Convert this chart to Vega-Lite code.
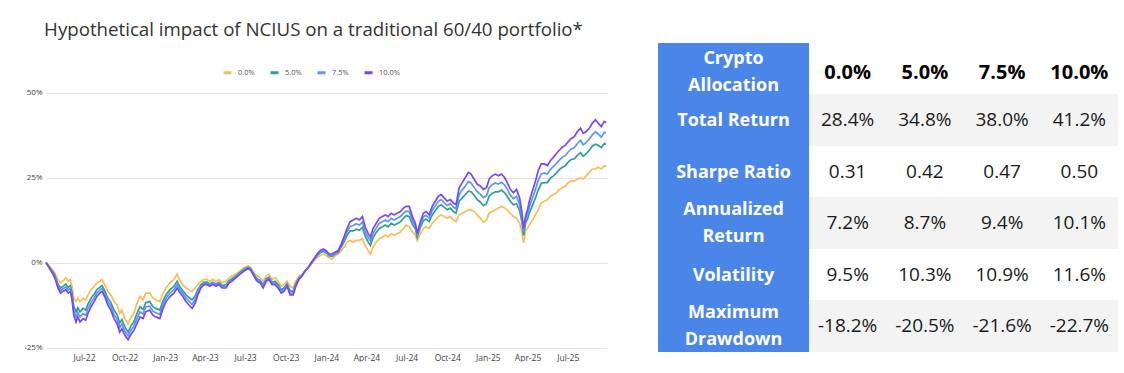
{
"$schema":"https://vega.github.io/schema/vega-lite/v6.json",
"padding":{"left":5,"top":21,"right":0,"bottom":0},
"spacing":48,
"config":{"view":{"stroke":null},"font":"Open Sans"},
"datasets":{
"s0":[{"d":"2022-04-06","v":0},{"d":"2022-04-13","v":-1},{"d":"2022-04-20","v":-2},{"d":"2022-04-26","v":-3},{"d":"2022-05-03","v":-5},{"d":"2022-05-09","v":-6},{"d":"2022-05-14","v":-5.5},{"d":"2022-05-21","v":-4.5},{"d":"2022-05-26","v":-5.5},{"d":"2022-05-31","v":-5},{"d":"2022-06-04","v":-7},{"d":"2022-06-08","v":-10.5},{"d":"2022-06-13","v":-11.5},{"d":"2022-06-17","v":-10.5},{"d":"2022-06-22","v":-11.5},{"d":"2022-06-29","v":-10.5},{"d":"2022-07-05","v":-11},{"d":"2022-07-10","v":-9.5},{"d":"2022-07-17","v":-8},{"d":"2022-07-24","v":-7},{"d":"2022-07-30","v":-6},{"d":"2022-08-06","v":-5.5},{"d":"2022-08-11","v":-5},{"d":"2022-08-17","v":-6.5},{"d":"2022-08-24","v":-8.5},{"d":"2022-08-31","v":-9.5},{"d":"2022-09-07","v":-11.5},{"d":"2022-09-14","v":-12.5},{"d":"2022-09-20","v":-15},{"d":"2022-09-25","v":-14},{"d":"2022-10-02","v":-16.5},{"d":"2022-10-09","v":-18.2},{"d":"2022-10-16","v":-16},{"d":"2022-10-22","v":-15},{"d":"2022-10-29","v":-12},{"d":"2022-11-05","v":-10},{"d":"2022-11-12","v":-11},{"d":"2022-11-18","v":-9},{"d":"2022-11-27","v":-9},{"d":"2022-12-04","v":-10.5},{"d":"2022-12-11","v":-11},{"d":"2022-12-20","v":-11.5},{"d":"2022-12-27","v":-9},{"d":"2023-01-03","v":-7.5},{"d":"2023-01-12","v":-6},{"d":"2023-01-21","v":-5},{"d":"2023-01-28","v":-3.5},{"d":"2023-02-04","v":-5.5},{"d":"2023-02-10","v":-6.5},{"d":"2023-02-17","v":-7.5},{"d":"2023-02-24","v":-8},{"d":"2023-03-03","v":-8.5},{"d":"2023-03-10","v":-7.5},{"d":"2023-03-16","v":-6.5},{"d":"2023-03-23","v":-5.5},{"d":"2023-03-30","v":-5},{"d":"2023-04-06","v":-5},{"d":"2023-04-12","v":-5.5},{"d":"2023-04-19","v":-5},{"d":"2023-04-26","v":-5.5},{"d":"2023-05-03","v":-5},{"d":"2023-05-10","v":-6},{"d":"2023-05-19","v":-5.5},{"d":"2023-05-26","v":-4.5},{"d":"2023-06-01","v":-4},{"d":"2023-06-10","v":-3.5},{"d":"2023-06-19","v":-2.5},{"d":"2023-06-29","v":-1.5},{"d":"2023-07-08","v":-1},{"d":"2023-07-14","v":-1.5},{"d":"2023-07-21","v":-3},{"d":"2023-07-28","v":-4},{"d":"2023-08-04","v":-4.5},{"d":"2023-08-11","v":-5.5},{"d":"2023-08-18","v":-4},{"d":"2023-08-24","v":-3.5},{"d":"2023-08-31","v":-5},{"d":"2023-09-07","v":-4.5},{"d":"2023-09-14","v":-5.5},{"d":"2023-09-21","v":-7},{"d":"2023-09-27","v":-6.5},{"d":"2023-10-04","v":-5.5},{"d":"2023-10-11","v":-7},{"d":"2023-10-18","v":-7.5},{"d":"2023-10-24","v":-5.5},{"d":"2023-10-31","v":-4},{"d":"2023-11-07","v":-3.5},{"d":"2023-11-14","v":-2.5},{"d":"2023-11-21","v":-1.5},{"d":"2023-11-28","v":-0.5},{"d":"2023-12-04","v":0.5},{"d":"2023-12-11","v":1.5},{"d":"2023-12-18","v":2},{"d":"2023-12-25","v":2.5},{"d":"2024-01-01","v":2},{"d":"2024-01-07","v":1.5},{"d":"2024-01-14","v":1},{"d":"2024-01-21","v":2},{"d":"2024-01-28","v":2.5},{"d":"2024-02-04","v":3.5},{"d":"2024-02-10","v":4.5},{"d":"2024-02-17","v":6},{"d":"2024-02-24","v":6.5},{"d":"2024-03-02","v":6},{"d":"2024-03-09","v":6.5},{"d":"2024-03-16","v":6.5},{"d":"2024-03-23","v":7},{"d":"2024-03-29","v":5},{"d":"2024-04-05","v":3.5},{"d":"2024-04-10","v":2.5},{"d":"2024-04-16","v":4.5},{"d":"2024-04-23","v":6},{"d":"2024-04-30","v":7},{"d":"2024-05-07","v":7.5},{"d":"2024-05-14","v":8},{"d":"2024-05-20","v":7.5},{"d":"2024-05-27","v":8.5},{"d":"2024-06-03","v":8},{"d":"2024-06-10","v":8.5},{"d":"2024-06-17","v":9},{"d":"2024-06-24","v":10},{"d":"2024-06-30","v":11},{"d":"2024-07-07","v":10.5},{"d":"2024-07-14","v":9},{"d":"2024-07-21","v":8},{"d":"2024-07-25","v":6.5},{"d":"2024-08-01","v":8.5},{"d":"2024-08-08","v":10},{"d":"2024-08-14","v":10.5},{"d":"2024-08-21","v":10},{"d":"2024-08-28","v":11.5},{"d":"2024-09-04","v":12.5},{"d":"2024-09-11","v":13.5},{"d":"2024-09-17","v":14},{"d":"2024-09-24","v":13.5},{"d":"2024-10-01","v":13},{"d":"2024-10-08","v":13.5},{"d":"2024-10-15","v":12.5},{"d":"2024-10-21","v":12},{"d":"2024-10-28","v":14},{"d":"2024-11-04","v":14.5},{"d":"2024-11-11","v":15},{"d":"2024-11-18","v":15.5},{"d":"2024-11-24","v":15.5},{"d":"2024-12-01","v":15},{"d":"2024-12-08","v":14},{"d":"2024-12-15","v":13},{"d":"2024-12-22","v":11.8},{"d":"2024-12-29","v":12.5},{"d":"2025-01-04","v":14.5},{"d":"2025-01-11","v":15},{"d":"2025-01-18","v":15.5},{"d":"2025-01-25","v":16},{"d":"2025-02-01","v":16.5},{"d":"2025-02-08","v":16},{"d":"2025-02-14","v":15.5},{"d":"2025-02-21","v":14.5},{"d":"2025-02-28","v":13.5},{"d":"2025-03-07","v":13},{"d":"2025-03-14","v":11.5},{"d":"2025-03-19","v":9},{"d":"2025-03-23","v":5.8},{"d":"2025-03-28","v":9.5},{"d":"2025-04-01","v":10},{"d":"2025-04-05","v":11},{"d":"2025-04-12","v":12.5},{"d":"2025-04-19","v":14},{"d":"2025-04-25","v":15.5},{"d":"2025-05-02","v":17.5},{"d":"2025-05-09","v":18},{"d":"2025-05-16","v":18.5},{"d":"2025-05-23","v":19.5},{"d":"2025-05-30","v":20},{"d":"2025-06-05","v":20.5},{"d":"2025-06-12","v":21.5},{"d":"2025-06-19","v":22},{"d":"2025-06-26","v":22.5},{"d":"2025-07-02","v":23.5},{"d":"2025-07-09","v":24},{"d":"2025-07-16","v":24},{"d":"2025-07-23","v":24.5},{"d":"2025-07-30","v":25},{"d":"2025-08-05","v":24.5},{"d":"2025-08-12","v":25.5},{"d":"2025-08-19","v":26.5},{"d":"2025-08-26","v":27.5},{"d":"2025-09-02","v":27.5},{"d":"2025-09-08","v":28},{"d":"2025-09-15","v":27.5},{"d":"2025-09-22","v":28.5},{"d":"2025-09-26","v":28.4}],
"s1":[{"d":"2022-04-06","v":0},{"d":"2022-04-13","v":-1.3},{"d":"2022-04-20","v":-2.5},{"d":"2022-04-26","v":-3.8},{"d":"2022-05-03","v":-6.3},{"d":"2022-05-09","v":-7.5},{"d":"2022-05-14","v":-7},{"d":"2022-05-21","v":-6.3},{"d":"2022-05-26","v":-7.3},{"d":"2022-05-31","v":-6.8},{"d":"2022-06-04","v":-9},{"d":"2022-06-08","v":-13},{"d":"2022-06-13","v":-14.5},{"d":"2022-06-17","v":-13.3},{"d":"2022-06-22","v":-14.5},{"d":"2022-06-29","v":-13.5},{"d":"2022-07-05","v":-14},{"d":"2022-07-10","v":-12.3},{"d":"2022-07-17","v":-10.5},{"d":"2022-07-24","v":-9.3},{"d":"2022-07-30","v":-8},{"d":"2022-08-06","v":-7.3},{"d":"2022-08-11","v":-6.8},{"d":"2022-08-17","v":-8.3},{"d":"2022-08-24","v":-10.5},{"d":"2022-08-31","v":-11.8},{"d":"2022-09-07","v":-14},{"d":"2022-09-14","v":-15.3},{"d":"2022-09-20","v":-17.8},{"d":"2022-09-25","v":-16.8},{"d":"2022-10-02","v":-19},{"d":"2022-10-09","v":-20.5},{"d":"2022-10-16","v":-18.5},{"d":"2022-10-22","v":-17.5},{"d":"2022-10-29","v":-15},{"d":"2022-11-05","v":-13},{"d":"2022-11-12","v":-13.8},{"d":"2022-11-18","v":-11.8},{"d":"2022-11-27","v":-11.5},{"d":"2022-12-04","v":-13},{"d":"2022-12-11","v":-13.5},{"d":"2022-12-20","v":-14},{"d":"2022-12-27","v":-11.3},{"d":"2023-01-03","v":-9.5},{"d":"2023-01-12","v":-8},{"d":"2023-01-21","v":-7},{"d":"2023-01-28","v":-5.5},{"d":"2023-02-04","v":-7.3},{"d":"2023-02-10","v":-8.3},{"d":"2023-02-17","v":-9.5},{"d":"2023-02-24","v":-10.3},{"d":"2023-03-03","v":-11},{"d":"2023-03-10","v":-9.8},{"d":"2023-03-16","v":-8},{"d":"2023-03-23","v":-6.5},{"d":"2023-03-30","v":-5.8},{"d":"2023-04-06","v":-5.8},{"d":"2023-04-12","v":-6.3},{"d":"2023-04-19","v":-5.8},{"d":"2023-04-26","v":-6.3},{"d":"2023-05-03","v":-5.8},{"d":"2023-05-10","v":-6.8},{"d":"2023-05-19","v":-6.5},{"d":"2023-05-26","v":-5.3},{"d":"2023-06-01","v":-4.8},{"d":"2023-06-10","v":-4},{"d":"2023-06-19","v":-3},{"d":"2023-06-29","v":-2},{"d":"2023-07-08","v":-1.4},{"d":"2023-07-14","v":-1.9},{"d":"2023-07-21","v":-3.5},{"d":"2023-07-28","v":-4.8},{"d":"2023-08-04","v":-5.3},{"d":"2023-08-11","v":-6.5},{"d":"2023-08-18","v":-4.8},{"d":"2023-08-24","v":-4.3},{"d":"2023-08-31","v":-5.8},{"d":"2023-09-07","v":-5.5},{"d":"2023-09-14","v":-6.5},{"d":"2023-09-21","v":-8},{"d":"2023-09-27","v":-7.5},{"d":"2023-10-04","v":-6.3},{"d":"2023-10-11","v":-8.3},{"d":"2023-10-18","v":-8.5},{"d":"2023-10-24","v":-6.3},{"d":"2023-10-31","v":-4.5},{"d":"2023-11-07","v":-3.8},{"d":"2023-11-14","v":-2.5},{"d":"2023-11-21","v":-1.5},{"d":"2023-11-28","v":-0.3},{"d":"2023-12-04","v":0.8},{"d":"2023-12-11","v":2},{"d":"2023-12-18","v":2.8},{"d":"2023-12-25","v":3.3},{"d":"2024-01-01","v":2.8},{"d":"2024-01-07","v":2},{"d":"2024-01-14","v":1.8},{"d":"2024-01-21","v":2.5},{"d":"2024-01-28","v":3},{"d":"2024-02-04","v":4.5},{"d":"2024-02-10","v":6},{"d":"2024-02-17","v":8},{"d":"2024-02-24","v":9.3},{"d":"2024-03-02","v":9.3},{"d":"2024-03-09","v":9.8},{"d":"2024-03-16","v":9.5},{"d":"2024-03-23","v":10.3},{"d":"2024-03-29","v":7.8},{"d":"2024-04-05","v":6},{"d":"2024-04-10","v":5},{"d":"2024-04-16","v":7.3},{"d":"2024-04-23","v":8.8},{"d":"2024-04-30","v":10},{"d":"2024-05-07","v":10.5},{"d":"2024-05-14","v":11},{"d":"2024-05-20","v":10.5},{"d":"2024-05-27","v":11.5},{"d":"2024-06-03","v":11},{"d":"2024-06-10","v":11.5},{"d":"2024-06-17","v":12},{"d":"2024-06-24","v":13},{"d":"2024-06-30","v":13.8},{"d":"2024-07-07","v":13.5},{"d":"2024-07-14","v":11.3},{"d":"2024-07-21","v":9.8},{"d":"2024-07-25","v":7.5},{"d":"2024-08-01","v":10.3},{"d":"2024-08-08","v":12.3},{"d":"2024-08-14","v":12.8},{"d":"2024-08-21","v":12},{"d":"2024-08-28","v":14},{"d":"2024-09-04","v":15.3},{"d":"2024-09-11","v":16.5},{"d":"2024-09-17","v":17},{"d":"2024-09-24","v":16.3},{"d":"2024-10-01","v":15.5},{"d":"2024-10-08","v":16},{"d":"2024-10-15","v":15},{"d":"2024-10-21","v":14.5},{"d":"2024-10-28","v":18},{"d":"2024-11-04","v":19},{"d":"2024-11-11","v":20},{"d":"2024-11-18","v":21},{"d":"2024-11-24","v":20.8},{"d":"2024-12-01","v":19.8},{"d":"2024-12-08","v":18.5},{"d":"2024-12-15","v":17.8},{"d":"2024-12-22","v":16.7},{"d":"2024-12-29","v":17.3},{"d":"2025-01-04","v":19.5},{"d":"2025-01-11","v":20.3},{"d":"2025-01-18","v":20.8},{"d":"2025-01-25","v":20.8},{"d":"2025-02-01","v":21.3},{"d":"2025-02-08","v":20.5},{"d":"2025-02-14","v":19.5},{"d":"2025-02-21","v":18},{"d":"2025-02-28","v":17},{"d":"2025-03-07","v":17.3},{"d":"2025-03-14","v":15.3},{"d":"2025-03-19","v":12},{"d":"2025-03-23","v":7.9},{"d":"2025-03-28","v":11.8},{"d":"2025-04-01","v":12.8},{"d":"2025-04-05","v":14.5},{"d":"2025-04-12","v":16.8},{"d":"2025-04-19","v":19},{"d":"2025-04-25","v":21.3},{"d":"2025-05-02","v":23.3},{"d":"2025-05-09","v":23.5},{"d":"2025-05-16","v":23.5},{"d":"2025-05-23","v":24.8},{"d":"2025-05-30","v":25.5},{"d":"2025-06-05","v":26.3},{"d":"2025-06-12","v":27.3},{"d":"2025-06-19","v":28},{"d":"2025-06-26","v":28.5},{"d":"2025-07-02","v":29.5},{"d":"2025-07-09","v":30.3},{"d":"2025-07-16","v":30.5},{"d":"2025-07-23","v":31.5},{"d":"2025-07-30","v":32.3},{"d":"2025-08-05","v":31.3},{"d":"2025-08-12","v":32},{"d":"2025-08-19","v":33},{"d":"2025-08-26","v":34.3},{"d":"2025-09-02","v":34.8},{"d":"2025-09-08","v":34.5},{"d":"2025-09-15","v":33.8},{"d":"2025-09-22","v":35},{"d":"2025-09-26","v":34.8}],
"s2":[{"d":"2022-04-06","v":0},{"d":"2022-04-13","v":-1.4},{"d":"2022-04-20","v":-2.8},{"d":"2022-04-26","v":-4.1},{"d":"2022-05-03","v":-6.9},{"d":"2022-05-09","v":-8.3},{"d":"2022-05-14","v":-7.8},{"d":"2022-05-21","v":-7.1},{"d":"2022-05-26","v":-8.1},{"d":"2022-05-31","v":-7.6},{"d":"2022-06-04","v":-10},{"d":"2022-06-08","v":-14.3},{"d":"2022-06-13","v":-16},{"d":"2022-06-17","v":-14.6},{"d":"2022-06-22","v":-16},{"d":"2022-06-29","v":-15},{"d":"2022-07-05","v":-15.5},{"d":"2022-07-10","v":-13.6},{"d":"2022-07-17","v":-11.8},{"d":"2022-07-24","v":-10.4},{"d":"2022-07-30","v":-9},{"d":"2022-08-06","v":-8.1},{"d":"2022-08-11","v":-7.6},{"d":"2022-08-17","v":-9.1},{"d":"2022-08-24","v":-11.5},{"d":"2022-08-31","v":-12.9},{"d":"2022-09-07","v":-15.3},{"d":"2022-09-14","v":-16.6},{"d":"2022-09-20","v":-19.1},{"d":"2022-09-25","v":-18.1},{"d":"2022-10-02","v":-20.3},{"d":"2022-10-09","v":-21.6},{"d":"2022-10-16","v":-19.8},{"d":"2022-10-22","v":-18.8},{"d":"2022-10-29","v":-16.5},{"d":"2022-11-05","v":-14.5},{"d":"2022-11-12","v":-15.1},{"d":"2022-11-18","v":-13.1},{"d":"2022-11-27","v":-12.8},{"d":"2022-12-04","v":-14.3},{"d":"2022-12-11","v":-14.8},{"d":"2022-12-20","v":-15.3},{"d":"2022-12-27","v":-12.4},{"d":"2023-01-03","v":-10.5},{"d":"2023-01-12","v":-9},{"d":"2023-01-21","v":-8},{"d":"2023-01-28","v":-6.5},{"d":"2023-02-04","v":-8.1},{"d":"2023-02-10","v":-9.1},{"d":"2023-02-17","v":-10.5},{"d":"2023-02-24","v":-11.4},{"d":"2023-03-03","v":-12.3},{"d":"2023-03-10","v":-10.9},{"d":"2023-03-16","v":-8.8},{"d":"2023-03-23","v":-7},{"d":"2023-03-30","v":-6.1},{"d":"2023-04-06","v":-6.1},{"d":"2023-04-12","v":-6.6},{"d":"2023-04-19","v":-6.1},{"d":"2023-04-26","v":-6.6},{"d":"2023-05-03","v":-6.1},{"d":"2023-05-10","v":-7.1},{"d":"2023-05-19","v":-7},{"d":"2023-05-26","v":-5.6},{"d":"2023-06-01","v":-5.1},{"d":"2023-06-10","v":-4.3},{"d":"2023-06-19","v":-3.3},{"d":"2023-06-29","v":-2.3},{"d":"2023-07-08","v":-1.6},{"d":"2023-07-14","v":-2.1},{"d":"2023-07-21","v":-3.8},{"d":"2023-07-28","v":-5.1},{"d":"2023-08-04","v":-5.6},{"d":"2023-08-11","v":-7},{"d":"2023-08-18","v":-5.1},{"d":"2023-08-24","v":-4.6},{"d":"2023-08-31","v":-6.1},{"d":"2023-09-07","v":-6},{"d":"2023-09-14","v":-7},{"d":"2023-09-21","v":-8.5},{"d":"2023-09-27","v":-8},{"d":"2023-10-04","v":-6.6},{"d":"2023-10-11","v":-8.9},{"d":"2023-10-18","v":-9},{"d":"2023-10-24","v":-6.6},{"d":"2023-10-31","v":-4.8},{"d":"2023-11-07","v":-3.9},{"d":"2023-11-14","v":-2.5},{"d":"2023-11-21","v":-1.5},{"d":"2023-11-28","v":-0.1},{"d":"2023-12-04","v":0.9},{"d":"2023-12-11","v":2.3},{"d":"2023-12-18","v":3.1},{"d":"2023-12-25","v":3.6},{"d":"2024-01-01","v":3.1},{"d":"2024-01-07","v":2.3},{"d":"2024-01-14","v":2.1},{"d":"2024-01-21","v":2.8},{"d":"2024-01-28","v":3.3},{"d":"2024-02-04","v":5},{"d":"2024-02-10","v":6.8},{"d":"2024-02-17","v":9},{"d":"2024-02-24","v":10.6},{"d":"2024-03-02","v":10.9},{"d":"2024-03-09","v":11.4},{"d":"2024-03-16","v":11},{"d":"2024-03-23","v":11.9},{"d":"2024-03-29","v":9.1},{"d":"2024-04-05","v":7.3},{"d":"2024-04-10","v":6.3},{"d":"2024-04-16","v":8.6},{"d":"2024-04-23","v":10.1},{"d":"2024-04-30","v":11.5},{"d":"2024-05-07","v":12},{"d":"2024-05-14","v":12.5},{"d":"2024-05-20","v":12},{"d":"2024-05-27","v":13},{"d":"2024-06-03","v":12.5},{"d":"2024-06-10","v":13},{"d":"2024-06-17","v":13.5},{"d":"2024-06-24","v":14.5},{"d":"2024-06-30","v":15.1},{"d":"2024-07-07","v":15},{"d":"2024-07-14","v":12.4},{"d":"2024-07-21","v":10.6},{"d":"2024-07-25","v":8},{"d":"2024-08-01","v":11.1},{"d":"2024-08-08","v":13.4},{"d":"2024-08-14","v":13.9},{"d":"2024-08-21","v":13},{"d":"2024-08-28","v":15.3},{"d":"2024-09-04","v":16.6},{"d":"2024-09-11","v":18},{"d":"2024-09-17","v":18.5},{"d":"2024-09-24","v":17.6},{"d":"2024-10-01","v":16.8},{"d":"2024-10-08","v":17.3},{"d":"2024-10-15","v":16.3},{"d":"2024-10-21","v":15.8},{"d":"2024-10-28","v":20},{"d":"2024-11-04","v":21.3},{"d":"2024-11-11","v":22.5},{"d":"2024-11-18","v":23.8},{"d":"2024-11-24","v":23.4},{"d":"2024-12-01","v":22.1},{"d":"2024-12-08","v":20.8},{"d":"2024-12-15","v":20.1},{"d":"2024-12-22","v":19.1},{"d":"2024-12-29","v":19.6},{"d":"2025-01-04","v":22},{"d":"2025-01-11","v":22.9},{"d":"2025-01-18","v":23.4},{"d":"2025-01-25","v":23.1},{"d":"2025-02-01","v":23.6},{"d":"2025-02-08","v":22.8},{"d":"2025-02-14","v":21.5},{"d":"2025-02-21","v":19.8},{"d":"2025-02-28","v":18.8},{"d":"2025-03-07","v":19.4},{"d":"2025-03-14","v":17.1},{"d":"2025-03-19","v":13.5},{"d":"2025-03-23","v":9},{"d":"2025-03-28","v":12.9},{"d":"2025-04-01","v":14.1},{"d":"2025-04-05","v":16.3},{"d":"2025-04-12","v":18.9},{"d":"2025-04-19","v":21.5},{"d":"2025-04-25","v":24.1},{"d":"2025-05-02","v":26.1},{"d":"2025-05-09","v":26.3},{"d":"2025-05-16","v":26},{"d":"2025-05-23","v":27.4},{"d":"2025-05-30","v":28.3},{"d":"2025-06-05","v":29.1},{"d":"2025-06-12","v":30.1},{"d":"2025-06-19","v":31},{"d":"2025-06-26","v":31.5},{"d":"2025-07-02","v":32.5},{"d":"2025-07-09","v":33.4},{"d":"2025-07-16","v":33.8},{"d":"2025-07-23","v":35},{"d":"2025-07-30","v":35.9},{"d":"2025-08-05","v":34.6},{"d":"2025-08-12","v":35.3},{"d":"2025-08-19","v":36.3},{"d":"2025-08-26","v":37.6},{"d":"2025-09-02","v":38.4},{"d":"2025-09-08","v":37.8},{"d":"2025-09-15","v":36.9},{"d":"2025-09-22","v":38.3},{"d":"2025-09-26","v":38}],
"s3":[{"d":"2022-04-06","v":0},{"d":"2022-04-13","v":-1.5},{"d":"2022-04-20","v":-3},{"d":"2022-04-26","v":-4.5},{"d":"2022-05-03","v":-7.5},{"d":"2022-05-09","v":-9},{"d":"2022-05-14","v":-8.5},{"d":"2022-05-21","v":-8},{"d":"2022-05-26","v":-9},{"d":"2022-05-31","v":-8.5},{"d":"2022-06-04","v":-11},{"d":"2022-06-08","v":-15.5},{"d":"2022-06-13","v":-17.5},{"d":"2022-06-17","v":-16},{"d":"2022-06-22","v":-17.5},{"d":"2022-06-29","v":-16.5},{"d":"2022-07-05","v":-17},{"d":"2022-07-10","v":-15},{"d":"2022-07-17","v":-13},{"d":"2022-07-24","v":-11.5},{"d":"2022-07-30","v":-10},{"d":"2022-08-06","v":-9},{"d":"2022-08-11","v":-8.5},{"d":"2022-08-17","v":-10},{"d":"2022-08-24","v":-12.5},{"d":"2022-08-31","v":-14},{"d":"2022-09-07","v":-16.5},{"d":"2022-09-14","v":-18},{"d":"2022-09-20","v":-20.5},{"d":"2022-09-25","v":-19.5},{"d":"2022-10-02","v":-21.5},{"d":"2022-10-09","v":-22.7},{"d":"2022-10-16","v":-21},{"d":"2022-10-22","v":-20},{"d":"2022-10-29","v":-18},{"d":"2022-11-05","v":-16},{"d":"2022-11-12","v":-16.5},{"d":"2022-11-18","v":-14.5},{"d":"2022-11-27","v":-14},{"d":"2022-12-04","v":-15.5},{"d":"2022-12-11","v":-16},{"d":"2022-12-20","v":-16.5},{"d":"2022-12-27","v":-13.5},{"d":"2023-01-03","v":-11.5},{"d":"2023-01-12","v":-10},{"d":"2023-01-21","v":-9},{"d":"2023-01-28","v":-7.5},{"d":"2023-02-04","v":-9},{"d":"2023-02-10","v":-10},{"d":"2023-02-17","v":-11.5},{"d":"2023-02-24","v":-12.5},{"d":"2023-03-03","v":-13.5},{"d":"2023-03-10","v":-12},{"d":"2023-03-16","v":-9.5},{"d":"2023-03-23","v":-7.5},{"d":"2023-03-30","v":-6.5},{"d":"2023-04-06","v":-6.5},{"d":"2023-04-12","v":-7},{"d":"2023-04-19","v":-6.5},{"d":"2023-04-26","v":-7},{"d":"2023-05-03","v":-6.5},{"d":"2023-05-10","v":-7.5},{"d":"2023-05-19","v":-7.5},{"d":"2023-05-26","v":-6},{"d":"2023-06-01","v":-5.5},{"d":"2023-06-10","v":-4.5},{"d":"2023-06-19","v":-3.5},{"d":"2023-06-29","v":-2.5},{"d":"2023-07-08","v":-1.8},{"d":"2023-07-14","v":-2.3},{"d":"2023-07-21","v":-4},{"d":"2023-07-28","v":-5.5},{"d":"2023-08-04","v":-6},{"d":"2023-08-11","v":-7.5},{"d":"2023-08-18","v":-5.5},{"d":"2023-08-24","v":-5},{"d":"2023-08-31","v":-6.5},{"d":"2023-09-07","v":-6.5},{"d":"2023-09-14","v":-7.5},{"d":"2023-09-21","v":-9},{"d":"2023-09-27","v":-8.5},{"d":"2023-10-04","v":-7},{"d":"2023-10-11","v":-9.5},{"d":"2023-10-18","v":-9.5},{"d":"2023-10-24","v":-7},{"d":"2023-10-31","v":-5},{"d":"2023-11-07","v":-4},{"d":"2023-11-14","v":-2.5},{"d":"2023-11-21","v":-1.5},{"d":"2023-11-28","v":0},{"d":"2023-12-04","v":1},{"d":"2023-12-11","v":2.5},{"d":"2023-12-18","v":3.5},{"d":"2023-12-25","v":4},{"d":"2024-01-01","v":3.5},{"d":"2024-01-07","v":2.5},{"d":"2024-01-14","v":2.5},{"d":"2024-01-21","v":3},{"d":"2024-01-28","v":3.5},{"d":"2024-02-04","v":5.5},{"d":"2024-02-10","v":7.5},{"d":"2024-02-17","v":10},{"d":"2024-02-24","v":12},{"d":"2024-03-02","v":12.5},{"d":"2024-03-09","v":13},{"d":"2024-03-16","v":12.5},{"d":"2024-03-23","v":13.5},{"d":"2024-03-29","v":10.5},{"d":"2024-04-05","v":8.5},{"d":"2024-04-10","v":7.5},{"d":"2024-04-16","v":10},{"d":"2024-04-23","v":11.5},{"d":"2024-04-30","v":13},{"d":"2024-05-07","v":13.5},{"d":"2024-05-14","v":14},{"d":"2024-05-20","v":13.5},{"d":"2024-05-27","v":14.5},{"d":"2024-06-03","v":14},{"d":"2024-06-10","v":14.5},{"d":"2024-06-17","v":15},{"d":"2024-06-24","v":16},{"d":"2024-06-30","v":16.5},{"d":"2024-07-07","v":16.5},{"d":"2024-07-14","v":13.5},{"d":"2024-07-21","v":11.5},{"d":"2024-07-25","v":8.5},{"d":"2024-08-01","v":12},{"d":"2024-08-08","v":14.5},{"d":"2024-08-14","v":15},{"d":"2024-08-21","v":14},{"d":"2024-08-28","v":16.5},{"d":"2024-09-04","v":18},{"d":"2024-09-11","v":19.5},{"d":"2024-09-17","v":20},{"d":"2024-09-24","v":19},{"d":"2024-10-01","v":18},{"d":"2024-10-08","v":18.5},{"d":"2024-10-15","v":17.5},{"d":"2024-10-21","v":17},{"d":"2024-10-28","v":22},{"d":"2024-11-04","v":23.5},{"d":"2024-11-11","v":25},{"d":"2024-11-18","v":26.5},{"d":"2024-11-24","v":26},{"d":"2024-12-01","v":24.5},{"d":"2024-12-08","v":23},{"d":"2024-12-15","v":22.5},{"d":"2024-12-22","v":21.5},{"d":"2024-12-29","v":22},{"d":"2025-01-04","v":24.5},{"d":"2025-01-11","v":25.5},{"d":"2025-01-18","v":26},{"d":"2025-01-25","v":25.5},{"d":"2025-02-01","v":26},{"d":"2025-02-08","v":25},{"d":"2025-02-14","v":23.5},{"d":"2025-02-21","v":21.5},{"d":"2025-02-28","v":20.5},{"d":"2025-03-07","v":21.5},{"d":"2025-03-14","v":19},{"d":"2025-03-19","v":15},{"d":"2025-03-23","v":10},{"d":"2025-03-28","v":14},{"d":"2025-04-01","v":15.5},{"d":"2025-04-05","v":18},{"d":"2025-04-12","v":21},{"d":"2025-04-19","v":24},{"d":"2025-04-25","v":27},{"d":"2025-05-02","v":29},{"d":"2025-05-09","v":29},{"d":"2025-05-16","v":28.5},{"d":"2025-05-23","v":30},{"d":"2025-05-30","v":31},{"d":"2025-06-05","v":32},{"d":"2025-06-12","v":33},{"d":"2025-06-19","v":34},{"d":"2025-06-26","v":34.5},{"d":"2025-07-02","v":35.5},{"d":"2025-07-09","v":36.5},{"d":"2025-07-16","v":37},{"d":"2025-07-23","v":38.5},{"d":"2025-07-30","v":39.5},{"d":"2025-08-05","v":38},{"d":"2025-08-12","v":38.5},{"d":"2025-08-19","v":39.5},{"d":"2025-08-26","v":41},{"d":"2025-09-02","v":42},{"d":"2025-09-08","v":41},{"d":"2025-09-15","v":40},{"d":"2025-09-22","v":41.5},{"d":"2025-09-26","v":41.2}],
"rows":[{"r":"Crypto Allocation","l":"Crypto\nAllocation"},{"r":"Total Return","l":"Total Return"},{"r":"Sharpe Ratio","l":"Sharpe Ratio"},{"r":"Annualized Return","l":"Annualized\nReturn"},{"r":"Volatility","l":"Volatility"},{"r":"Maximum Drawdown","l":"Maximum\nDrawdown"}],
"cells":[
{"r":"Crypto Allocation","c":"0.0%","t":"0.0%"},{"r":"Crypto Allocation","c":"5.0%","t":"5.0%"},{"r":"Crypto Allocation","c":"7.5%","t":"7.5%"},{"r":"Crypto Allocation","c":"10.0%","t":"10.0%"},
{"r":"Total Return","c":"0.0%","t":"28.4%"},{"r":"Total Return","c":"5.0%","t":"34.8%"},{"r":"Total Return","c":"7.5%","t":"38.0%"},{"r":"Total Return","c":"10.0%","t":"41.2%"},
{"r":"Sharpe Ratio","c":"0.0%","t":"0.31"},{"r":"Sharpe Ratio","c":"5.0%","t":"0.42"},{"r":"Sharpe Ratio","c":"7.5%","t":"0.47"},{"r":"Sharpe Ratio","c":"10.0%","t":"0.50"},
{"r":"Annualized Return","c":"0.0%","t":"7.2%"},{"r":"Annualized Return","c":"5.0%","t":"8.7%"},{"r":"Annualized Return","c":"7.5%","t":"9.4%"},{"r":"Annualized Return","c":"10.0%","t":"10.1%"},
{"r":"Volatility","c":"0.0%","t":"9.5%"},{"r":"Volatility","c":"5.0%","t":"10.3%"},{"r":"Volatility","c":"7.5%","t":"10.9%"},{"r":"Volatility","c":"10.0%","t":"11.6%"},
{"r":"Maximum Drawdown","c":"0.0%","t":"-18.2%"},{"r":"Maximum Drawdown","c":"5.0%","t":"-20.5%"},{"r":"Maximum Drawdown","c":"7.5%","t":"-21.6%"},{"r":"Maximum Drawdown","c":"10.0%","t":"-22.7%"}]
},
"hconcat":[
{
"width":561,"height":304.5,
"title":{"text":"Hypothetical impact of NCIUS on a traditional 60/40 portfolio*","fontSize":18.7,"fontWeight":"normal","color":"#333333","font":"Open Sans","anchor":"middle","frame":"group","dx":-13,"offset":3},
"layer":[
{"mark":{"type":"rule","color":"#9a9a9a","strokeWidth":1.2},"encoding":{"y":{"datum":0,"type":"quantitative"}}},
{"encoding":{
"x":{"field":"d","type":"temporal","scale":{"domain":[{"year":2022,"month":4,"date":6},{"year":2025,"month":9,"date":28}],"nice":false},"axis":{"title":null,"format":"%b-%y","tickCount":{"interval":"month","step":3},"grid":false,"ticks":false,"domain":false,"labelFontSize":8.5,"labelColor":"#444444","labelPadding":6,"labelFont":"Open Sans"}},
"y":{"field":"v","type":"quantitative","scale":{"domain":[-25,64.56],"nice":false,"zero":false},"axis":{"title":null,"values":[-25,0,25,50],"labelExpr":"datum.value + '%'","grid":true,"gridColor":"#e4e4e4","ticks":false,"domain":false,"labelFontSize":8,"labelColor":"#444444","labelPadding":4,"minExtent":41,"maxExtent":41,"labelFont":"Open Sans"}}},
"layer":[
{"data":{"name":"s0"},"mark":{"type":"line","strokeWidth":1.7},"encoding":{"color":{"datum":"0.0%","scale":{"domain":["0.0%","5.0%","7.5%","10.0%"],"range":["#F9BD55","#2E9E8F","#5A97F3","#7B45F5"]},"legend":{"orient":"none","legendX":176,"legendY":24,"direction":"horizontal","title":null,"symbolType":"stroke","symbolSize":64,"symbolStrokeWidth":3,"labelFontSize":7.5,"labelColor":"#555555","labelOffset":5,"columnPadding":9,"labelFont":"Open Sans"}}}},
{"data":{"name":"s1"},"mark":{"type":"line","strokeWidth":1.7},"encoding":{"color":{"datum":"5.0%"}}},
{"data":{"name":"s2"},"mark":{"type":"line","strokeWidth":1.7},"encoding":{"color":{"datum":"7.5%"}}},
{"data":{"name":"s3"},"mark":{"type":"line","strokeWidth":1.7},"encoding":{"color":{"datum":"10.0%"}}}
]}
]
},
{"spacing":0,"hconcat":[
{"width":151,"height":309,"view":{"fill":"#4A86E8","stroke":null},"data":{"name":"rows"},
"encoding":{"y":{"field":"r","type":"nominal","sort":null,"scale":{"type":"band","domain":["Crypto Allocation","Total Return","Sharpe Ratio","Annualized Return","Volatility","Maximum Drawdown"],"paddingInner":0,"paddingOuter":0},"axis":null},"text":{"field":"l"}},
"layer":[
{"transform":[{"filter":{"field":"r","oneOf":["Total Return","Sharpe Ratio","Volatility"]}}],"mark":{"type":"text","color":"#ffffff","fontWeight":"bold","fontSize":18,"font":"Open Sans","dy":1}},
{"transform":[{"filter":{"field":"r","oneOf":["Crypto Allocation"]}}],"mark":{"type":"text","color":"#ffffff","fontWeight":"bold","fontSize":18,"lineBreak":"\n","lineHeight":27,"font":"Open Sans","dy":-9.5}},
{"transform":[{"filter":{"field":"r","oneOf":["Annualized Return","Maximum Drawdown"]}}],"mark":{"type":"text","color":"#ffffff","fontWeight":"bold","fontSize":18,"lineBreak":"\n","lineHeight":27,"font":"Open Sans","dy":-13.25}}
]},
{"width":309,"height":309,"data":{"name":"cells"},
"encoding":{"y":{"field":"r","type":"nominal","sort":null,"scale":{"type":"band","domain":["Crypto Allocation","Total Return","Sharpe Ratio","Annualized Return","Volatility","Maximum Drawdown"],"paddingInner":0,"paddingOuter":0},"axis":null}},
"layer":[
{"transform":[{"filter":{"field":"r","oneOf":["Total Return","Annualized Return","Maximum Drawdown"]}}],"mark":{"type":"rect","color":"#F3F3F3"}},
{"transform":[{"filter":"datum.r == 'Crypto Allocation'"}],"mark":{"type":"text","fontWeight":"bold","fontSize":20,"color":"#000000","font":"Open Sans","dy":4.5},"encoding":{"x":{"field":"c","type":"nominal","sort":null,"scale":{"type":"band","domain":["0.0%","5.0%","7.5%","10.0%"],"paddingInner":0,"paddingOuter":0},"axis":null},"text":{"field":"t"}}},
{"transform":[{"filter":"datum.r != 'Crypto Allocation'"}],"mark":{"type":"text","fontSize":19,"color":"#1a1a1a","font":"Open Sans","dy":0},"encoding":{"x":{"field":"c","type":"nominal","sort":null,"scale":{"type":"band","domain":["0.0%","5.0%","7.5%","10.0%"],"paddingInner":0,"paddingOuter":0},"axis":null},"text":{"field":"t"}}}
]}
]}
]
}
